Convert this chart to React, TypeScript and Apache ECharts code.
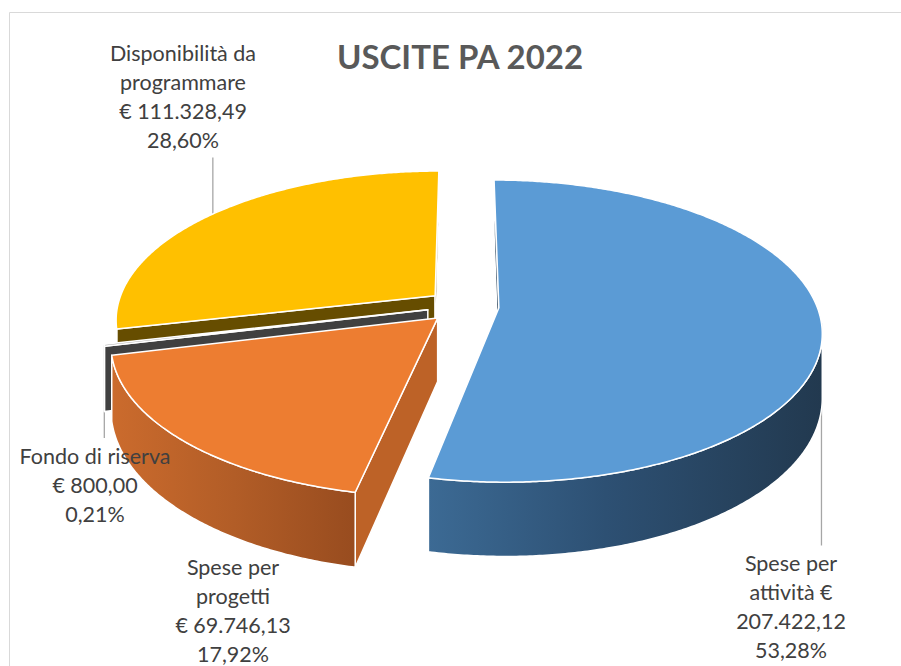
import React, { useEffect, useRef } from 'react';
import * as echarts from 'echarts';

// ---------- data ----------
const TITLE = 'USCITE PA 2022';
const CATEGORIES = ['Spese per attività', 'Spese per progetti', 'Fondo di riserva', 'Disponibilità da programmare'];
const VALUES = [207422.12, 69746.13, 800.0, 111328.49];

// ---------- styles / layout ----------
const TOP_COLORS = ['#5B9BD5', '#ED7D31', '#A5A5A5', '#FFC000'];
const SIDE_COLORS = ['#1F3A52', '#BD6227', '#404040', '#664D00'];
const WALL_STOPS = [
  [['#3C6A94', 0], ['#2D5073', 0.45], ['#22394F', 1]],
  [['#CB6B2D', 0], ['#B25D27', 0.5], ['#984C1F', 1]],
  [['#444444', 0], ['#333333', 1]],
  [['#C49300', 0], ['#A67C00', 1]],
];
// label block: center x, top y, words per line
const LABEL_POS = [[791, 548.5], [233, 552.5], [95, 441], [183, 38.5]];
const LABEL_WRAP = [[2, 2, 1], [2, 1, 2], [3, 2], [2, 1, 2]];
const LEADER = [true, false, true, true];

const OX = 463, OY = 306, R = 318, F = 0.462, K = 0.1545, H = 62.7, EXPLODE = 36;
const LINE_H = 29;
const FONT = 'Lato, "Open Sans", sans-serif';

const total = VALUES.reduce((a, b) => a + b, 0);

function fmtMoney(v: number) {
  const [i, d] = v.toFixed(2).split('.');
  return i.replace(/\B(?=(\d{3})+(?!\d))/g, '.') + ',' + d;
}
function fmtPct(v: number) {
  return ((v / total) * 100).toFixed(2).replace('.', ',') + '%';
}

function labelLines(idx: number) {
  const tokens = [...CATEGORIES[idx].split(' '), '€', fmtMoney(VALUES[idx])];
  const lines: string[] = [];
  let p = 0;
  for (const n of LABEL_WRAP[idx]) {
    lines.push(tokens.slice(p, p + n).join(' '));
    p += n;
  }
  lines.push(fmtPct(VALUES[idx]));
  return lines;
}

// slice angles (clockwise from 12 o'clock)
const slices = (() => {
  let acc = 0;
  return VALUES.map((v) => {
    const start = (acc / total) * Math.PI * 2;
    acc += v;
    const end = (acc / total) * Math.PI * 2;
    return { start, end, mid: (start + end) / 2 };
  });
})();

function proj(u: number, v: number, h: number): [number, number] {
  const s = 1 / (1 + (K * v) / R);
  return [OX + u * s, OY - v * F * s + h * s];
}

function area(pts: number[][]) {
  let a = 0;
  for (let i = 0; i < pts.length; i++) {
    const p = pts[i], q = pts[(i + 1) % pts.length];
    a += p[0] * q[1] - q[0] * p[1];
  }
  return a;
}

const depthOrder = slices
  .map((s, i) => ({ i, d: EXPLODE * Math.cos(s.mid) + R * 0.5 * Math.cos(s.mid) }))
  .sort((a, b) => b.d - a.d)
  .map((o) => o.i);

function renderSlice(params: any) {
  const idx = params.dataIndex;
  const sl = slices[idx];
  const du = EXPLODE * Math.sin(sl.mid);
  const dv = EXPLODE * Math.cos(sl.mid);
  const rim = (t: number, h: number) => proj(du + R * Math.sin(t), dv + R * Math.cos(t), h);
  const apex = (h: number) => proj(du, dv, h);
  const rank = depthOrder.indexOf(idx);
  const zb = 10 + rank * 10;
  const stroke = { stroke: '#FFFFFF', lineWidth: 1.5, lineJoin: 'round' };
  const children: any[] = [];

  // sample angles
  const steps = Math.max(2, Math.ceil((sl.end - sl.start) / (Math.PI / 360)));
  const ts: number[] = [];
  for (let k = 0; k <= steps; k++) ts.push(sl.start + ((sl.end - sl.start) * k) / steps);

  // radial faces
  const faceStart = [apex(0), rim(sl.start, 0), rim(sl.start, H), apex(H)];
  const faceEnd = [apex(0), rim(sl.end, 0), rim(sl.end, H), apex(H)];
  if (area(faceStart) < 0)
    children.push({ type: 'polygon', z2: zb + 1, shape: { points: faceStart }, style: { fill: SIDE_COLORS[idx], ...stroke } });
  if (area(faceEnd) > 0)
    children.push({ type: 'polygon', z2: zb + 1, shape: { points: faceEnd }, style: { fill: SIDE_COLORS[idx], ...stroke } });

  // outer wall: front-facing where screen x decreases with angle
  let run: number[] = [];
  const runs: number[][] = [];
  for (let k = 0; k < ts.length - 1; k++) {
    const a = rim(ts[k], 0), b = rim(ts[k + 1], 0);
    if (b[0] < a[0]) {
      if (run.length === 0) run.push(ts[k]);
      run.push(ts[k + 1]);
    } else if (run.length) {
      runs.push(run);
      run = [];
    }
  }
  if (run.length) runs.push(run);
  for (const r of runs) {
    const pts = [...r.map((t) => rim(t, 0)), ...r.slice().reverse().map((t) => rim(t, H))];
    const stops = WALL_STOPS[idx].map(([c, o]) => ({ offset: o as number, color: c as string }));
    children.push({
      type: 'polygon',
      z2: zb + 2,
      shape: { points: pts },
      style: { fill: new echarts.graphic.LinearGradient(0, 0, 1, 0, stops), ...stroke },
    });
  }

  // top
  const top = [apex(0), ...ts.map((t) => rim(t, 0))];
  children.push({ type: 'polygon', z2: zb + 3, shape: { points: top }, style: { fill: TOP_COLORS[idx], ...stroke } });

  // label
  const lines = labelLines(idx);
  const [lx, ly] = LABEL_POS[idx];
  children.push({
    type: 'text',
    z2: 200,
    x: lx,
    y: ly,
    style: {
      text: lines.join('\n'),
      fill: '#404040',
      fontFamily: FONT,
      fontSize: 21.5,
      lineHeight: LINE_H,
      align: 'center',
      verticalAlign: 'top',
    },
  });

  // leader line
  if (LEADER[idx]) {
    const a = rim(sl.mid, 0);
    const bottom = ly + lines.length * LINE_H;
    const yEnd = ly > a[1] ? ly - 3 : bottom + 3;
    children.push({
      type: 'line',
      z2: 1,
      shape: { x1: a[0], y1: a[1], x2: a[0], y2: yEnd },
      style: { stroke: '#A6A6A6', lineWidth: 1.3 },
    });
  }

  return { type: 'group', children };
}

export default function App() {
  const ref = useRef<HTMLDivElement>(null);
  useEffect(() => {
    const chart = echarts.init(ref.current!, null, { renderer: 'svg' });
    chart.setOption({
      animation: false,
      backgroundColor: '#FFFFFF',
      graphic: [
        {
          type: 'rect',
          shape: { x: 9.5, y: 12.5, width: 1000, height: 1000 },
          style: { fill: 'none', stroke: '#D9D9D9', lineWidth: 1 },
          silent: true,
        },
        {
          type: 'text',
          x: 460,
          y: 56,
          style: {
            text: TITLE,
            fill: '#595959',
            fontFamily: FONT,
            fontWeight: 'bold',
            fontSize: 33,
            align: 'center',
            verticalAlign: 'middle',
          },
          silent: true,
        },
      ],
      series: [
        {
          type: 'custom',
          coordinateSystem: 'none',
          silent: true,
          renderItem: renderSlice,
          data: VALUES.map((v, i) => ({ name: CATEGORIES[i], value: [i, v] })),
        },
      ],
    });
    return () => chart.dispose();
  }, []);
  return <div ref={ref} style={{ position: 'absolute', left: 0, top: 0, width: 901, height: 666 }} />;
}
